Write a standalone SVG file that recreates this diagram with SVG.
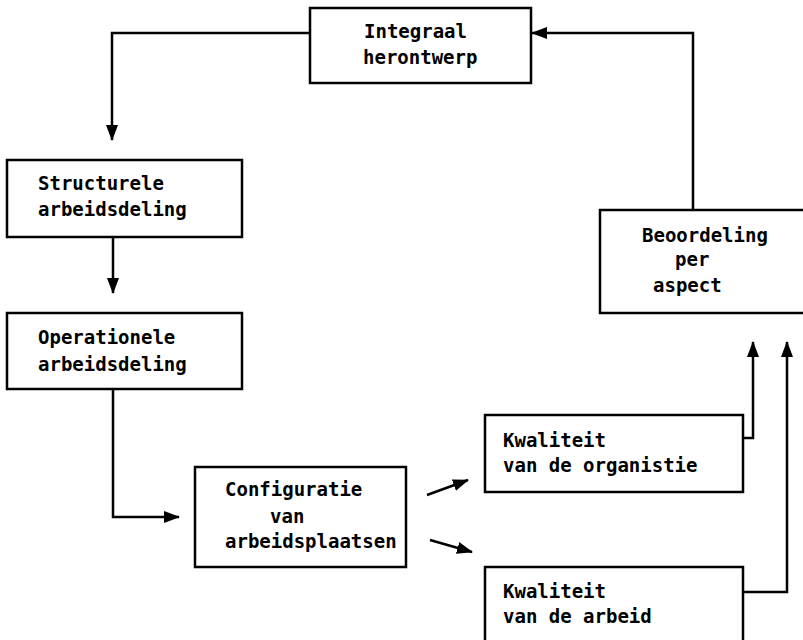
<svg xmlns="http://www.w3.org/2000/svg" width="803" height="640" viewBox="0 0 803 640">
<style>
.box{fill:#fff;stroke:#000;stroke-width:2.5}
.t{font-family:"DejaVu Sans Mono","Liberation Mono",monospace;font-weight:bold;font-size:19px;fill:#000}
.c{fill:none;stroke:#000;stroke-width:2.5;marker-end:url(#ah)}
</style>
<defs>
<marker id="ah" markerUnits="userSpaceOnUse" markerWidth="16" markerHeight="12" refX="15" refY="6" orient="auto">
<path d="M0,0 L16,6 L0,12 Z" fill="#000"/>
</marker>
</defs>
<rect width="803" height="640" fill="#fff"/>
<g id="connectors">
<polyline class="c" points="310,33 112,33 112,140"/>
<polyline class="c" points="113,237 113,293"/>
<polyline class="c" points="113,389 113,517 179,517"/>
<polyline class="c" points="427,495 468,480"/>
<polyline class="c" points="430,540 472,552"/>
<polyline class="c" points="743,438 753,438 753,342"/>
<polyline class="c" points="743,592 787,592 787,342"/>
<polyline class="c" points="693,210 693,33 532,33"/>
</g>
<g id="integraal">
<rect class="box" x="310" y="8" width="221" height="75"/>
<text class="t" x="364" y="38">Integraal</text>
<text class="t" x="363" y="64">herontwerp</text>
</g>
<g id="structurele">
<rect class="box" x="7" y="160" width="235" height="77"/>
<text class="t" x="38" y="190">Structurele</text>
<text class="t" x="38" y="216">arbeidsdeling</text>
</g>
<g id="operationele">
<rect class="box" x="7" y="313" width="235" height="76"/>
<text class="t" x="38" y="344">Operationele</text>
<text class="t" x="38" y="371">arbeidsdeling</text>
</g>
<g id="configuratie">
<rect class="box" x="195" y="467" width="211" height="100"/>
<text class="t" x="225" y="496">Configuratie</text>
<text class="t" x="270" y="523">van</text>
<text class="t" x="225" y="548">arbeidsplaatsen</text>
</g>
<g id="beoordeling">
<rect class="box" x="600" y="210" width="215" height="103"/>
<text class="t" x="642" y="242">Beoordeling</text>
<text class="t" x="675" y="266">per</text>
<text class="t" x="653" y="292">aspect</text>
</g>
<g id="kwaliteit-organisatie">
<rect class="box" x="485" y="415" width="258" height="77"/>
<text class="t" x="503" y="447">Kwaliteit</text>
<text class="t" x="503" y="472">van de organistie</text>
</g>
<g id="kwaliteit-arbeid">
<rect class="box" x="485" y="567" width="258" height="85"/>
<text class="t" x="503" y="598">Kwaliteit</text>
<text class="t" x="503" y="623">van de arbeid</text>
</g>
</svg>
